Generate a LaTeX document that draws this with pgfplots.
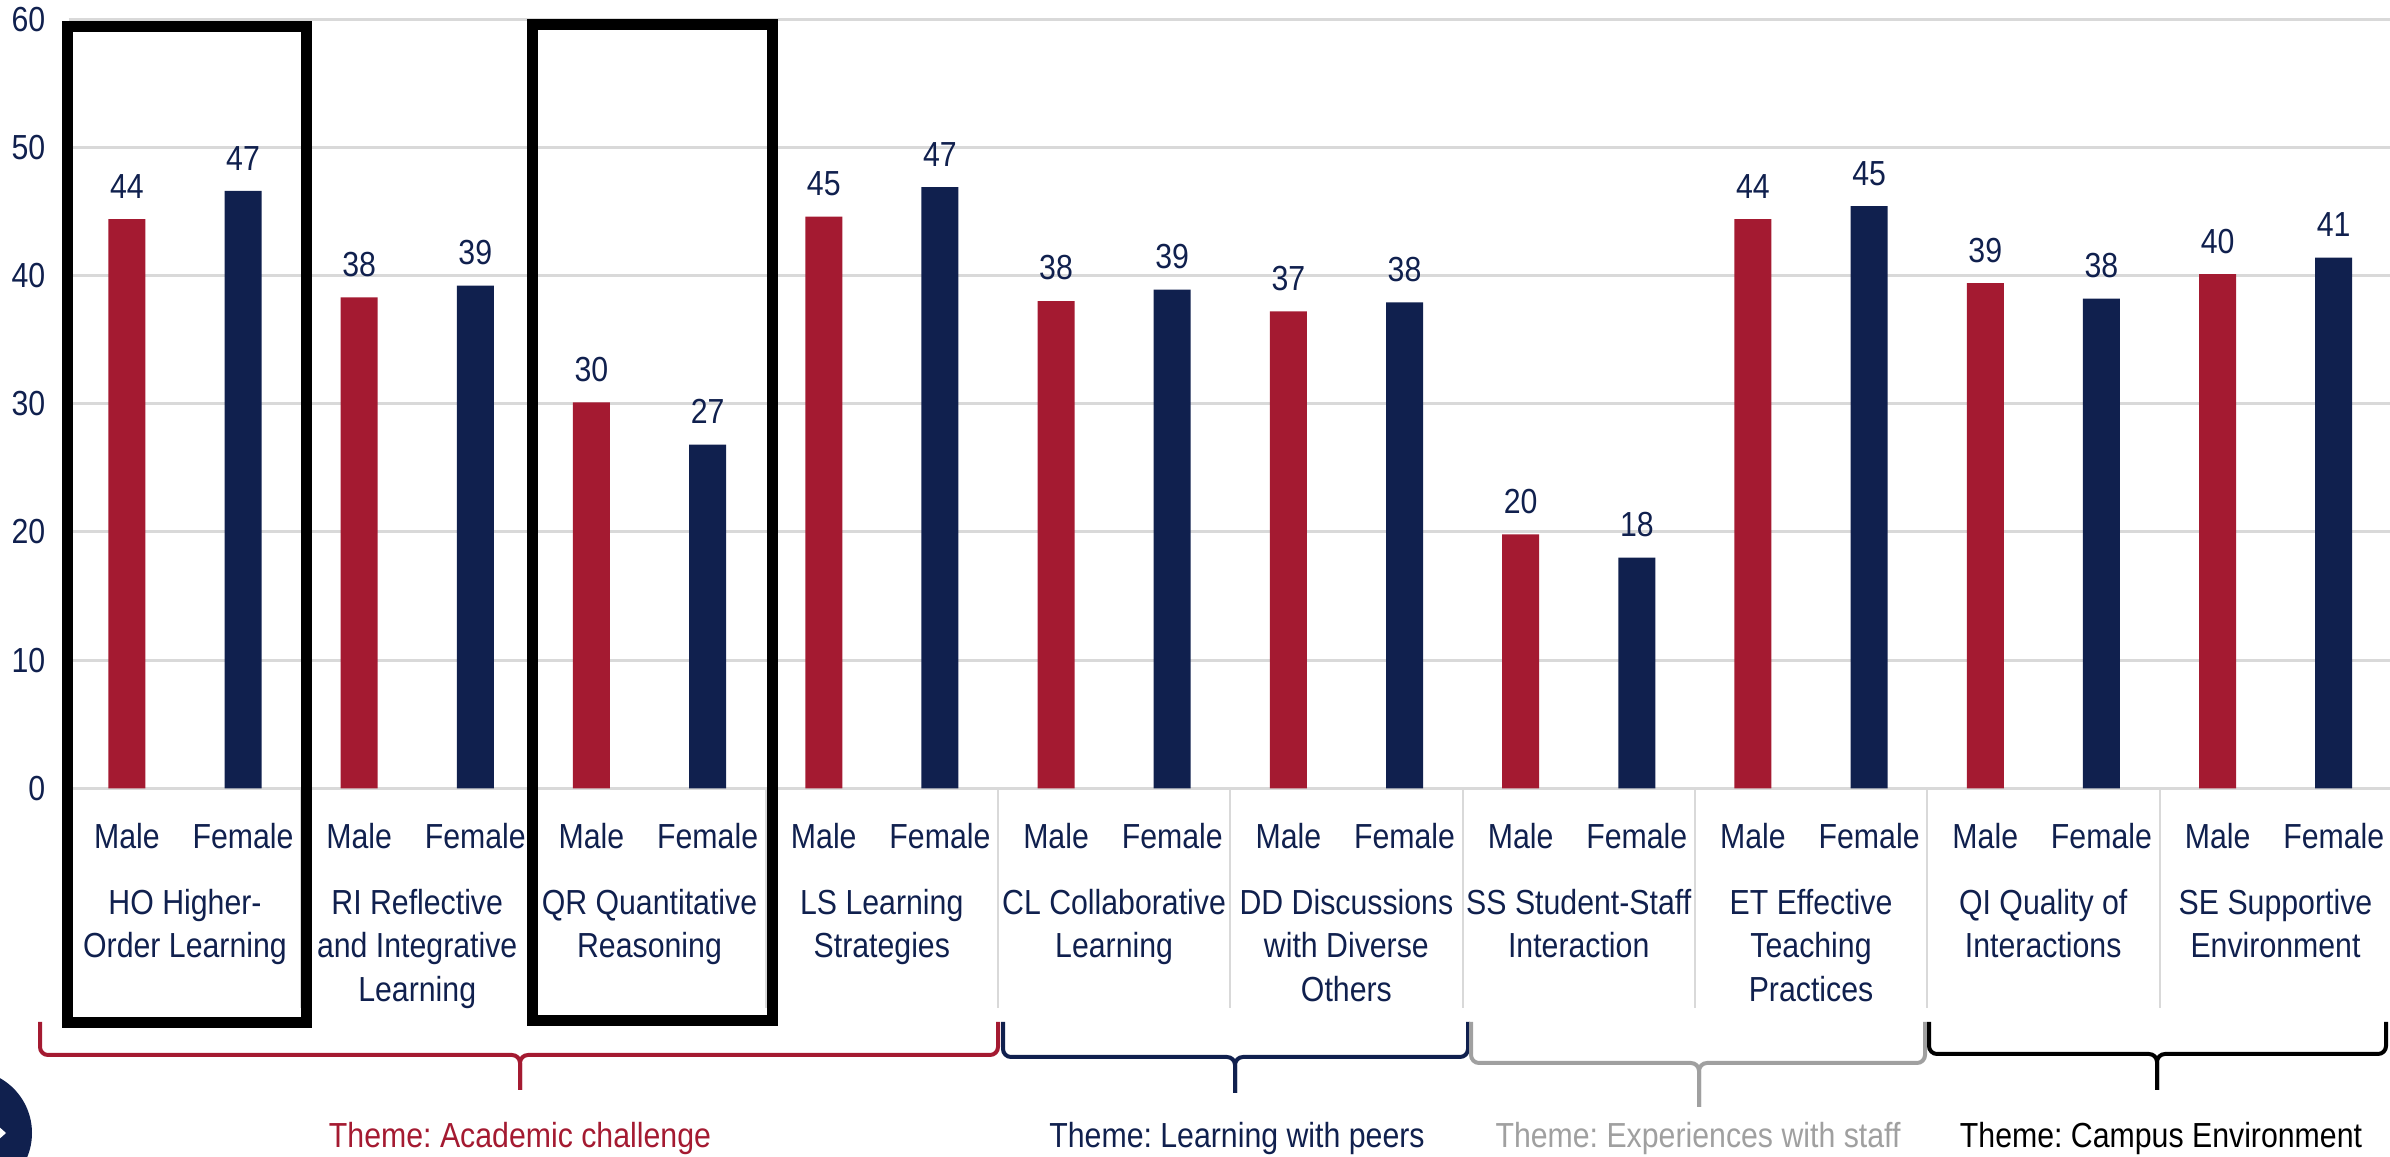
\documentclass[border=0pt]{standalone}
\usepackage{fontspec}
\setmainfont{Liberation Sans}[FakeStretch=0.87]
\usepackage{pgfplots}
\pgfplotsset{compat=1.18}
\definecolor{cred}{HTML}{A41A31}
\definecolor{cnavy}{HTML}{10204E}
\definecolor{cgrid}{HTML}{D9D9D9}
\definecolor{cgray}{HTML}{A0A0A0}
\newcommand{\myfs}{\fontsize{8.7}{10.9}\selectfont}
\frenchspacing
\begin{document}
\begin{tikzpicture}
\useasboundingbox (0,0) rectangle (597.5pt,289.25pt);
\begin{axis}[
  at={(17.2pt,92.18pt)}, anchor=south west,
  scale only axis, width=580.75pt, height=192.3pt,
  xmin=-0.5, xmax=19.5, ymin=0, ymax=60,
  ytick={0,10,...,60}, ymajorgrids, grid style={cgrid, line width=0.75pt},
  xtick={0,...,19},
  xticklabels={Male,Female,Male,Female,Male,Female,Male,Female,Male,Female,Male,Female,Male,Female,Male,Female,Male,Female,Male,Female},
  axis line style={draw=none}, tick style={draw=none},
  ticklabel style={font=\myfs, text=cnavy},
  yticklabel style={anchor=east, inner sep=0pt, xshift=-5.7pt},
  xticklabel style={anchor=north, inner sep=0pt, yshift=-4.3pt},
  /pgf/number format/assume math mode=true,
  ybar, bar width=9.25pt, bar shift=0pt,
  nodes near coords, point meta=explicit symbolic,
  every node near coord/.append style={font=\myfs, text=cnavy, anchor=south, inner sep=0pt, yshift=5pt},
  clip=false,
]
\addplot[fill=cred, draw=none] coordinates {(0,44.4)[44] (2,38.3)[38] (4,30.1)[30] (6,44.6)[45] (8,38.0)[38] (10,37.2)[37] (12,19.8)[20] (14,44.4)[44] (16,39.4)[39] (18,40.1)[40]};
\addplot[fill=cnavy, draw=none] coordinates {(1,46.6)[47] (3,39.2)[39] (5,26.8)[27] (7,46.9)[47] (9,38.9)[39] (11,37.9)[38] (13,18.0)[18] (15,45.4)[45] (17,38.2)[38] (19,41.4)[41]};
\end{axis}
\begin{scope}[x=0.25pt,y=-0.25pt,shift={(0pt,289.25pt)}]
  % group separators
  \foreach \k in {1,...,9} {
    \draw[cgrid, line width=0.5pt] ({68.8+232.3*\k},789) -- ({68.8+232.3*\k},1008);
  }
  % category labels
  \tikzset{cat/.style={anchor=north, align=center, inner sep=0pt, text=cnavy, font=\myfs}}
  \node[cat] at (185,888) {HO Higher-\\Order Learning};
  \node[cat] at (417.2,888) {RI Reflective\\and Integrative\\Learning};
  \node[cat] at (649.5,888) {QR Quantitative\\Reasoning};
  \node[cat] at (881.8,888) {LS Learning\\Strategies};
  \node[cat] at (1114.1,888) {CL Collaborative\\Learning};
  \node[cat] at (1346.4,888) {DD Discussions\\with Diverse\\Others};
  \node[cat] at (1578.7,888) {SS Student-Staff\\Interaction};
  \node[cat] at (1811,888) {ET Effective\\Teaching\\Practices};
  \node[cat] at (2043.2,888) {QI Quality of\\Interactions};
  \node[cat] at (2275.5,888) {SE Supportive\\Environment};
  % braces
  \draw[cred, line width=1pt, rounded corners=2pt] (40,1022) |- (520,1055) -- (520,1090);
  \draw[cred, line width=1pt, rounded corners=2pt] (998,1022) |- (520,1055) -- (520,1090);
  \draw[cnavy, line width=1pt, rounded corners=2pt] (1003,1022) |- (1235,1057) -- (1235,1093);
  \draw[cnavy, line width=1pt, rounded corners=2pt] (1468,1022) |- (1235,1057) -- (1235,1093);
  \draw[cgray, line width=1pt, rounded corners=2pt] (1471,1022) |- (1699,1063) -- (1699,1107);
  \draw[cgray, line width=1pt, rounded corners=2pt] (1925,1022) |- (1699,1063) -- (1699,1107);
  \draw[black, line width=1pt, rounded corners=2pt] (1929,1022) |- (2157,1054) -- (2157,1090);
  \draw[black, line width=1pt, rounded corners=2pt] (2386,1022) |- (2157,1054) -- (2157,1090);
  % theme labels
  \node[anchor=base, inner sep=0pt, font=\myfs, text=cred] at (520,1148) {Theme: Academic challenge};
  \node[anchor=base, inner sep=0pt, font=\myfs, text=cnavy] at (1237,1148) {Theme: Learning with peers};
  \node[anchor=base, inner sep=0pt, font=\myfs, text=cgray] at (1698,1148) {Theme: Experiences with staff};
  \node[anchor=base, inner sep=0pt, font=\myfs, text=black] at (2161,1148) {Theme: Campus Environment};
  % highlight boxes
  \draw[black, line width=2.75pt] (67,26.5) rectangle (306,1022.5);
  \draw[black, line width=2.75pt] (532.5,25) rectangle (772,1021);
  % corner logo
  \begin{scope}
    \clip (0,0) rectangle (2390,1157);
    \fill[cnavy] (-31,1133) circle[radius=15.75pt];
    \draw[white, line width=1pt] (-6,1125) -- (3,1133) -- (-6,1141);
  \end{scope}
\end{scope}
\end{tikzpicture}
\end{document}
